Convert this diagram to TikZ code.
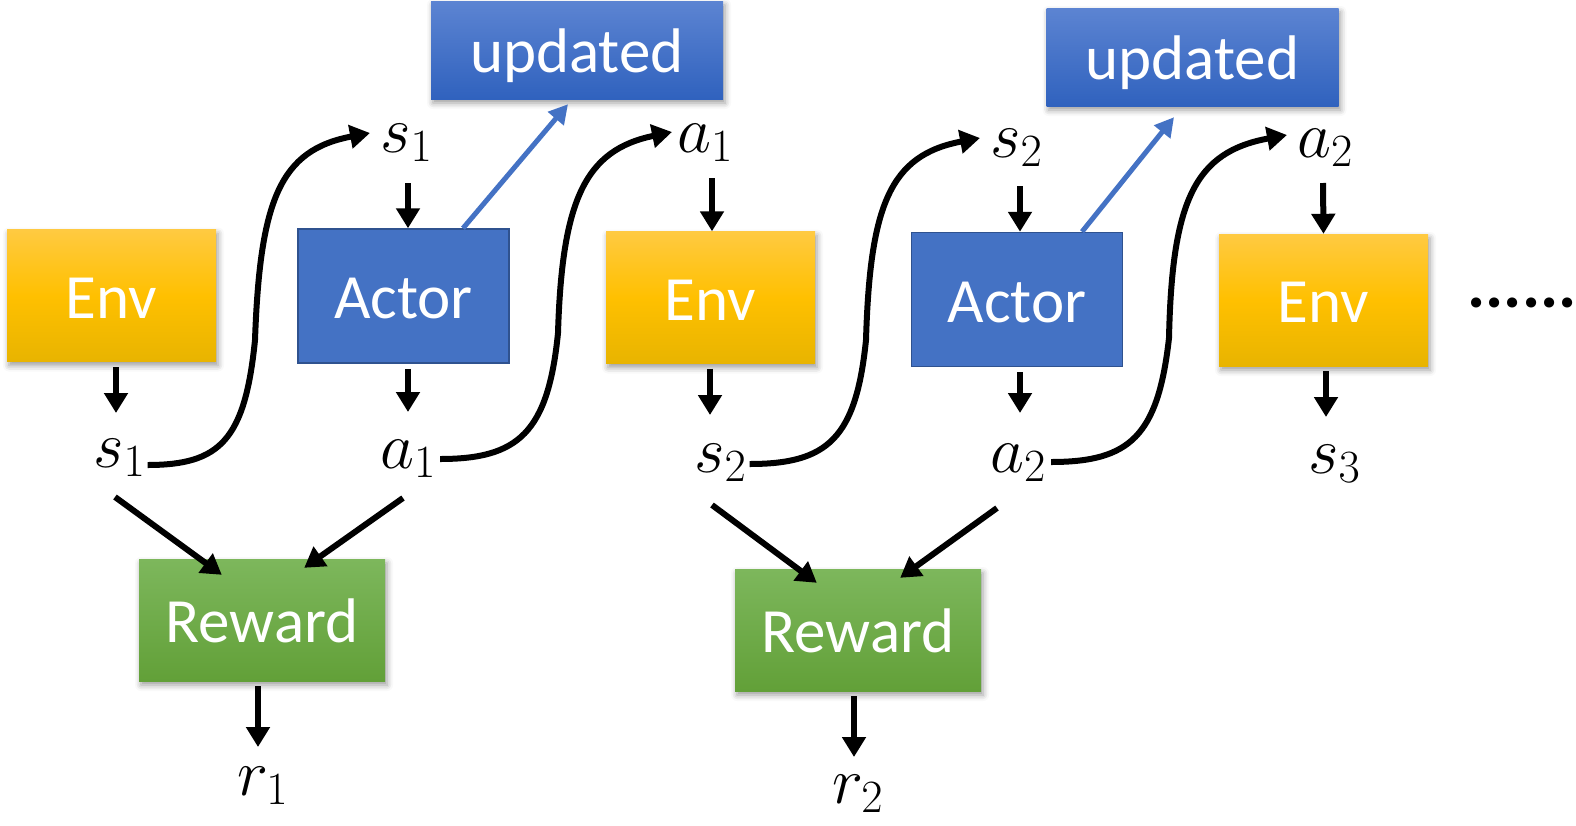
\RequirePackage{fix-cm}
\documentclass[tikz,border=0pt]{standalone}
\usepackage{fontspec}
\setmainfont{Carlito}
\usetikzlibrary{arrows.meta,shadows.blur}
\definecolor{envtop}{RGB}{255,202,66}
\definecolor{envmid}{RGB}{255,192,0}
\definecolor{envbot}{RGB}{232,180,0}
\definecolor{acfill}{RGB}{68,114,196}
\definecolor{acdraw}{RGB}{47,82,143}
\definecolor{updtop}{RGB}{92,132,210}
\definecolor{updbot}{RGB}{48,98,190}
\definecolor{rewtop}{RGB}{125,183,92}
\definecolor{rewbot}{RGB}{98,160,56}
\definecolor{bluearr}{RGB}{68,114,196}
\begin{document}
\begin{tikzpicture}[x=1pt,y=-1pt,
  boxtext/.style={text=white,font=\fontsize{63}{70}\selectfont,inner sep=0pt,
    text height=60pt,text depth=15pt},
  shad/.style={blur shadow={shadow xshift=2pt,shadow yshift=-4pt,shadow blur radius=6pt,shadow opacity=40}},
  envbox/.style={boxtext,shad,minimum width=209pt,minimum height=132pt,
    top color=envtop,bottom color=envbot,middle color=envmid},
  actorbox/.style={boxtext,minimum width=211pt,minimum height=134pt,
    fill=acfill,draw=acdraw,line width=1.5pt},
  updbox/.style={boxtext,shad,minimum width=292pt,minimum height=98pt,
    top color=updtop,bottom color=updbot},
  rewbox/.style={boxtext,shad,minimum width=246pt,minimum height=122pt,
    top color=rewtop,bottom color=rewbot},
  lab/.style={inner sep=0pt,anchor=base west,font=\fontsize{66}{70}\selectfont},
  arr/.style={line width=6pt,-{Triangle[length=20pt,width=23pt]}},
  curve/.style={line width=6pt,-{Triangle[length=20pt,width=23pt]}},
  barr/.style={line width=5pt,color=bluearr,-{Triangle[length=19pt,width=20pt]}}
]
\useasboundingbox (0,0) rectangle (1576,825);

% boxes
\node[envbox] (env1) at (111.5,295.5) {Env};
\node[actorbox] (act1) at (403.5,296) {Actor};
\node[envbox] (env2) at (710.5,297.5) {Env};
\node[actorbox] (act2) at (1017,299.5) {Actor};
\node[envbox] (env3) at (1323.5,300) {Env};
\node[updbox] (upd1) at (577,50) {updated};
\node[updbox] (upd2) at (1192.5,57) {updated};
\node[rewbox] (rew1) at (262,620) {Reward};
\node[rewbox] (rew2) at (858,630) {Reward};

% labels
\node[lab] (s1t) at (380,152) {$s_1$};
\node[lab] (a1t) at (677,152) {$a_1$};
\node[lab] (s2t) at (990,157) {$s_2$};
\node[lab] (a2t) at (1297,157) {$a_2$};
\node[lab] (s1b) at (93,467) {$s_1$};
\node[lab] (a1b) at (380,468) {$a_1$};
\node[lab] (s2b) at (694,472) {$s_2$};
\node[lab] (a2b) at (990,472) {$a_2$};
\node[lab] (s3) at (1308,473) {$s_3$};
\node[lab] (r1) at (237,795) {$r_1$};
\node[lab] (r2) at (832,803) {$r_2$};

\node[inner sep=0pt,font=\bfseries\fontsize{68}{70}\selectfont] (dots) at (1522,303) {......};

% short vertical arrows
\draw[arr] ([shift={(4.5,5.5)}]env1.south) -- ([shift={(23,-54)}]s1b.base west);
\draw[arr] ([shift={(4.5,5)}]act1.south) -- ([shift={(28,-56)}]a1b.base west);
\draw[arr] ([shift={(28,31)}]s1t.base west) -- ([shift={(4.5,0)}]act1.north);
\draw[arr] ([shift={(35,26)}]a1t.base west) -- ([shift={(1.5,0)}]env2.north);
\draw[arr] ([shift={(-0.5,5)}]env2.south) -- ([shift={(16,-57)}]s2b.base west);
\draw[arr] ([shift={(30,29)}]s2t.base west) -- ([shift={(3,0)}]act2.north);
\draw[arr] ([shift={(3,5)}]act2.south) -- ([shift={(30,-59)}]a2b.base west);
\draw[arr] ([shift={(26,26)}]a2t.base west) -- (env3.north);
\draw[arr] ([shift={(2.5,5)}]env3.south) -- ([shift={(18,-56)}]s3.base west);
\draw[arr] ([shift={(-4,5)}]rew1.south) -- ([shift={(21,-48)}]r1.base west);
\draw[arr] ([shift={(-4,5)}]rew2.south) -- ([shift={(22,-46)}]r2.base west);

% diagonal arrows to reward
\draw[arr] ([shift={(22,30)}]s1b.base west) -- ([shift={(83,16)}]rew1.north west);
\draw[arr] ([shift={(23,30)}]a1b.base west) -- ([shift={(-81,9)}]rew1.north east);
\draw[arr] ([shift={(18,33)}]s2b.base west) -- ([shift={(82,14)}]rew2.north west);
\draw[arr] ([shift={(7,36)}]a2b.base west) -- ([shift={(-81,9)}]rew2.north east);

% blue arrows to updated
\draw[barr] ([shift={(59.5,0)}]act1.north) -- ([shift={(-9,5)}]upd1.south);
\draw[barr] ([shift={(65,0)}]act2.north) -- ([shift={(-18.5,11)}]upd2.south);

% S-curves
\draw[curve] ([shift={(2,-2)}]s1b.base east) .. controls (220,465) and (245,440) .. (255,340)
   .. controls (260,200) and (280,150) .. ([shift={(-10,-19)}]s1t.base west);
\draw[curve] ([shift={(4,-9)}]a1b.base east) .. controls (518,459) and (548,433) .. (558,333)
   .. controls (562,200) and (585,150) .. ([shift={(-5,-20)}]a1t.base west);
\draw[curve] ([shift={(3,-8)}]s2b.base east) .. controls (828,464) and (856,438) .. (866,340)
   .. controls (870,205) and (890,155) .. ([shift={(-10,-19)}]s2t.base west);
\draw[curve] ([shift={(5,-10)}]a2b.base east) .. controls (1130,462) and (1158,436) .. (1169,338)
   .. controls (1172,200) and (1195,152) .. ([shift={(-10,-22)}]a2t.base west);
\end{tikzpicture}
\end{document}
